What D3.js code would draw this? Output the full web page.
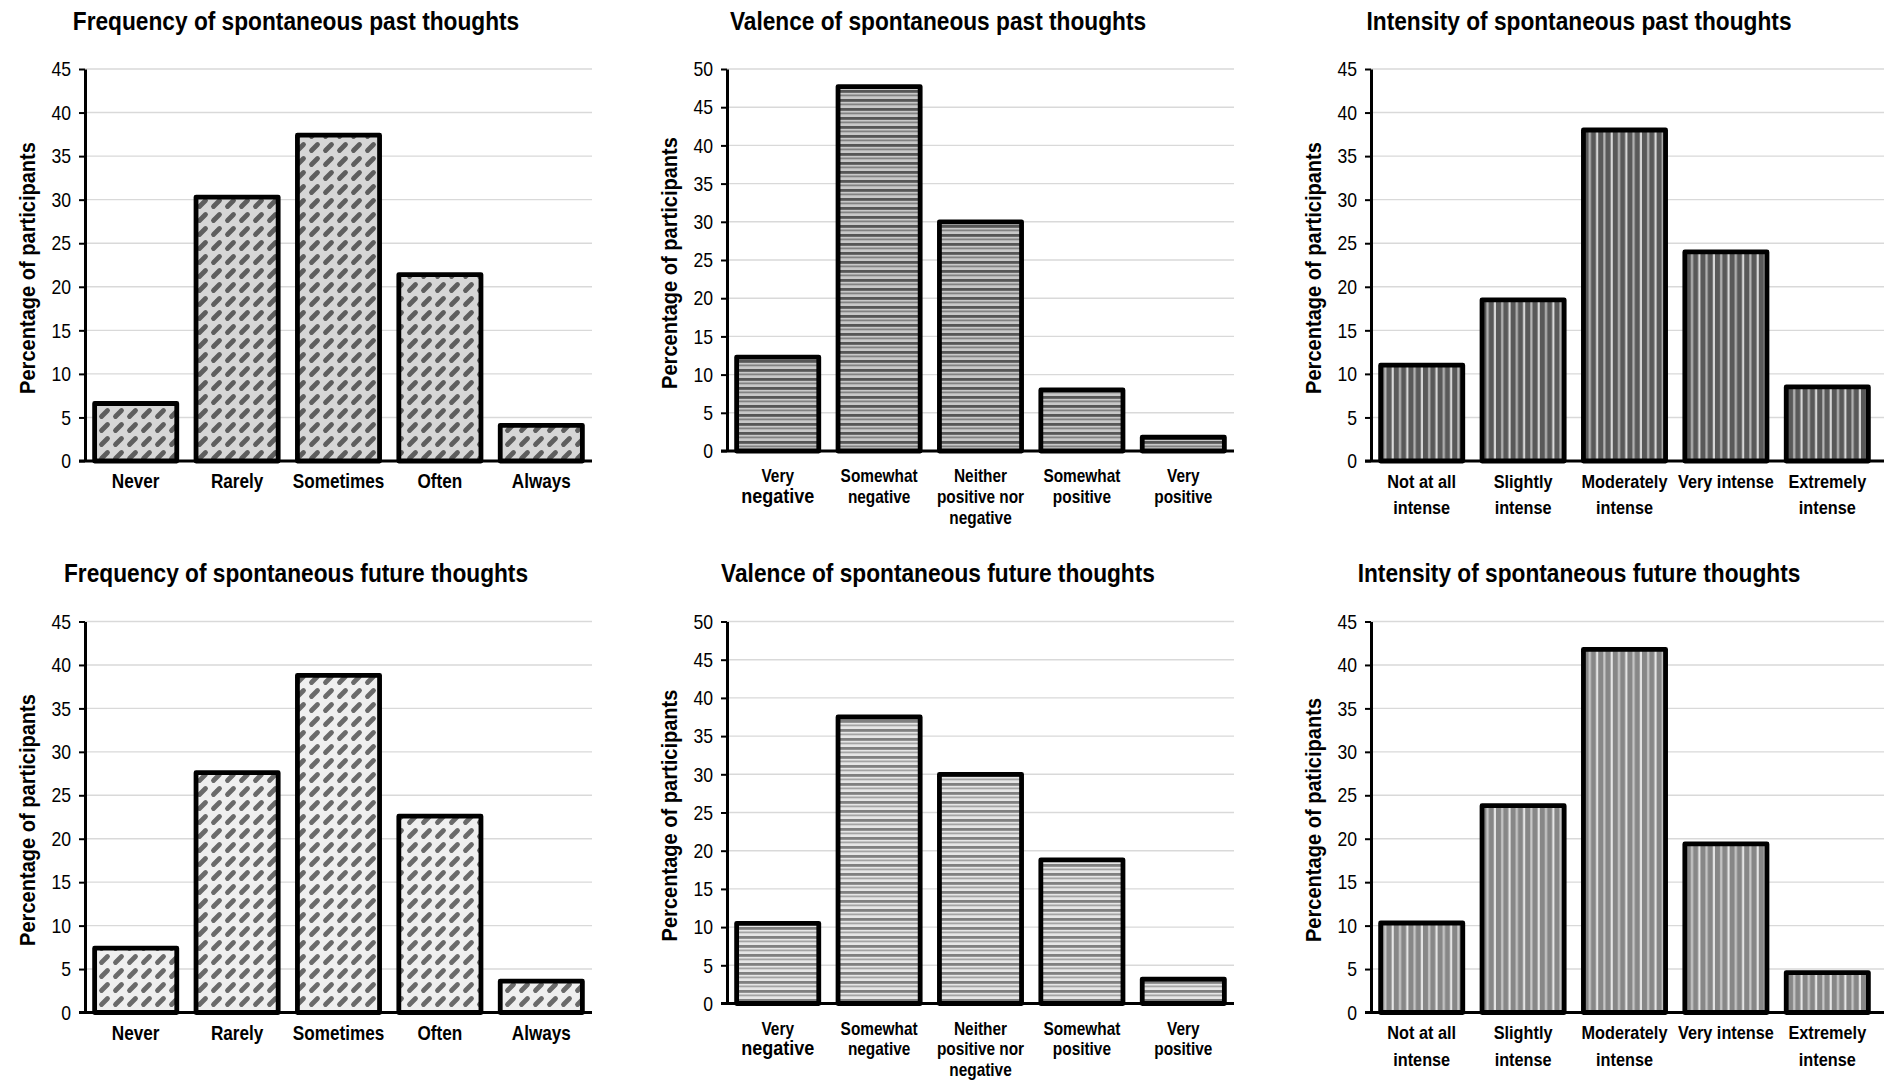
<!DOCTYPE html>
<html>
<head>
<meta charset="utf-8">
<script src="https://cdn.jsdelivr.net/npm/d3@7"></script>
<style>
  body { margin: 0; background: #ffffff; }
  svg { display: block; font-family: "Liberation Sans", Arial, Helvetica, sans-serif; }
</style>
</head>
<body>
<svg id="chart" width="1884" height="1085"></svg>
<script>
// ---- Data -------------------------------------------------------------
const frequencyCategories = [["Never"], ["Rarely"], ["Sometimes"], ["Often"], ["Always"]];
const valenceCategories = [
  ["Very", "negative"],
  ["Somewhat", "negative"],
  ["Neither", "positive nor", "negative"],
  ["Somewhat", "positive"],
  ["Very", "positive"]
];
const intensityCategories = [
  ["Not at all", "intense"],
  ["Slightly", "intense"],
  ["Moderately", "intense"],
  ["Very intense"],
  ["Extremely", "intense"]
];

const frequencyPast   = [6.6, 30.3, 37.4, 21.4, 4.1];
const valencePast     = [12.3, 47.7, 30.0, 8.0, 1.8];
const intensityPast   = [11.0, 18.5, 38.0, 24.0, 8.5];
const frequencyFuture = [7.4, 27.6, 38.8, 22.6, 3.6];
const valenceFuture   = [10.5, 37.5, 30.0, 18.8, 3.2];
const intensityFuture = [10.3, 23.8, 41.8, 19.4, 4.6];

const ticksTo45 = [0, 5, 10, 15, 20, 25, 30, 35, 40, 45];
const ticksTo50 = [0, 5, 10, 15, 20, 25, 30, 35, 40, 45, 50];

const titles = [
  "Frequency of spontaneous past thoughts",
  "Valence of spontaneous past thoughts",
  "Intensity of spontaneous past thoughts",
  "Frequency of spontaneous future thoughts",
  "Valence of spontaneous future thoughts",
  "Intensity of spontaneous future thoughts"
];
const yTitles = [
  "Percentage of participants",
  "Percentage of participants",
  "Percentage of participants",
  "Percentage of participants",
  "Percentage of participants",
  "Percentage of paticipants"
];

// ---- Layout -----------------------------------------------------------
const svg = d3.select("#chart");
const plotWidth = 507;
const columnAxisX = [85, 727, 1371];
const columnTitleX = [296, 938, 1579];
const columnGridExtra = [0, 0, 6];
const rowLayout = [
  { top: 69,    titleY: 30,  zero: 461,    zeroValence: 451 },
  { top: 621.5, titleY: 582, zero: 1012.5, zeroValence: 1003.5 }
];
const NARROW = 0.88; // horizontal condensation applied to all text

const kinds = {
  frequency: { cats: frequencyCategories, ticks: ticksTo45, max: 45, font: 19.5, lineGap: 22, firstLine: 27 },
  valence:   { cats: valenceCategories,   ticks: ticksTo50, max: 50, font: 17.5, lineGap: 21, firstLine: 31 },
  intensity: { cats: intensityCategories, ticks: ticksTo45, max: 45, font: 18.5, lineGap: 27, firstLine: 26.5 }
};

const panels = [
  { kind: "frequency", values: frequencyPast,   row: 0, col: 0, fill: "diagTop" },
  { kind: "valence",   values: valencePast,     row: 0, col: 1, fill: "hstripeTop" },
  { kind: "intensity", values: intensityPast,   row: 0, col: 2, fill: "vstripeTop" },
  { kind: "frequency", values: frequencyFuture, row: 1, col: 0, fill: "diagBottom" },
  { kind: "valence",   values: valenceFuture,   row: 1, col: 1, fill: "hstripeBottom" },
  { kind: "intensity", values: intensityFuture, row: 1, col: 2, fill: "vstripeBottom" }
];

// ---- Fill patterns ----------------------------------------------------
const defs = svg.append("defs");

function diagonalPattern(id, bg, ink) {
  const p = defs.append("pattern").attr("id", id)
    .attr("patternUnits", "userSpaceOnUse").attr("width", 14).attr("height", 14);
  p.append("rect").attr("width", 14).attr("height", 14).attr("fill", bg);
  p.append("line").attr("x1", 3.5).attr("y1", 10.5).attr("x2", 9.5).attr("y2", 4.5)
    .attr("stroke", ink).attr("stroke-width", 4.8).attr("stroke-linecap", "round");
}
function horizontalPattern(id, bg, ink, mid) {
  const p = defs.append("pattern").attr("id", id)
    .attr("patternUnits", "userSpaceOnUse").attr("width", 10).attr("height", 9);
  p.append("rect").attr("width", 10).attr("height", 9).attr("fill", bg);
  p.append("rect").attr("y", 0).attr("width", 10).attr("height", 2.8).attr("fill", ink);
  p.append("rect").attr("y", 4.5).attr("width", 10).attr("height", 1.8).attr("fill", mid);
}
function verticalPattern(id, bg, light, mid) {
  const p = defs.append("pattern").attr("id", id)
    .attr("patternUnits", "userSpaceOnUse").attr("width", 14.6).attr("height", 10);
  p.append("rect").attr("width", 14.6).attr("height", 10).attr("fill", bg);
  p.append("rect").attr("x", 4.6).attr("width", 2.2).attr("height", 10).attr("fill", light);
  p.append("rect").attr("x", 11.9).attr("width", 2.2).attr("height", 10).attr("fill", mid);
}

diagonalPattern("diagTop", "#d6d6d6", "#5e5e5e");
diagonalPattern("diagBottom", "#efefef", "#6a6a6a");
horizontalPattern("hstripeTop", "#c8c8c8", "#565656", "#828282");
horizontalPattern("hstripeBottom", "#e6e6e6", "#808080", "#a4a4a4");
verticalPattern("vstripeTop", "#595959", "#d8d8d8", "#b4b4b4");
verticalPattern("vstripeBottom", "#878787", "#e6e6e6", "#c8c8c8");

// condensed text placed at (x, y), optionally rotated
function narrowText(parent, x, y, rotate) {
  return parent.append("text")
    .attr("transform", `translate(${x},${y})${rotate ? ` rotate(${rotate})` : ""} scale(${NARROW},1)`);
}

// ---- Panels -----------------------------------------------------------
panels.forEach((panel, i) => {
  const cfg = kinds[panel.kind];
  const rowCfg = rowLayout[panel.row];
  const axisX = columnAxisX[panel.col];
  const zeroY = panel.kind === "valence" ? rowCfg.zeroValence : rowCfg.zero;

  const x = d3.scaleBand()
    .domain(d3.range(cfg.cats.length))
    .range([axisX, axisX + plotWidth])
    .paddingInner(0.19)
    .paddingOuter(0.095);
  const y = d3.scaleLinear().domain([0, cfg.max]).range([zeroY, rowCfg.top]);
  const gridEnd = axisX + plotWidth + columnGridExtra[panel.col];

  const g = svg.append("g");

  // chart title
  narrowText(g, columnTitleX[panel.col], rowCfg.titleY)
    .attr("text-anchor", "middle")
    .attr("font-size", 25.8).attr("font-weight", "bold").attr("fill", "#000")
    .text(titles[i]);

  // horizontal gridlines
  g.append("g").selectAll("line")
    .data(cfg.ticks.filter(t => t > 0))
    .join("line")
    .attr("x1", axisX).attr("x2", gridEnd)
    .attr("y1", d => y(d)).attr("y2", d => y(d))
    .attr("stroke", "#d9d9d9").attr("stroke-width", 1.4);

  // bars
  g.append("g").selectAll("rect")
    .data(panel.values)
    .join("rect")
    .attr("x", (d, j) => x(j))
    .attr("width", x.bandwidth())
    .attr("y", d => y(d))
    .attr("height", d => y(0) - y(d))
    .attr("fill", `url(#${panel.fill})`)
    .attr("stroke", "#000").attr("stroke-width", 4.8)
    .attr("stroke-linejoin", "round");

  // y axis line and tick marks
  const yAxis = g.append("g")
    .attr("transform", `translate(${axisX},0)`)
    .call(d3.axisLeft(y).tickValues(cfg.ticks).tickSize(6).tickSizeOuter(0).tickFormat(""));
  yAxis.select(".domain").attr("stroke", "#000").attr("stroke-width", 3);
  yAxis.selectAll(".tick line").attr("stroke", "#000").attr("stroke-width", 2);

  // y tick numbers
  cfg.ticks.forEach(t => {
    narrowText(g, axisX - 14, y(t))
      .attr("text-anchor", "end")
      .attr("dy", "0.36em")
      .attr("font-size", 20).attr("fill", "#000")
      .text(d3.format("d")(t));
  });

  // category axis line
  g.append("line")
    .attr("x1", axisX - 6).attr("x2", gridEnd)
    .attr("y1", y(0)).attr("y2", y(0))
    .attr("stroke", "#000").attr("stroke-width", 3);

  // category labels
  cfg.cats.forEach((lines, j) => {
    const t = narrowText(g, x(j) + x.bandwidth() / 2, y(0) + cfg.firstLine)
      .attr("text-anchor", "middle")
      .attr("font-weight", "bold").attr("fill", "#000");
    lines.forEach((line, k) => {
      const big = panel.kind === "valence" && j === 0 && k === 1;
      t.append("tspan")
        .attr("x", 0)
        .attr("dy", k === 0 ? 0 : cfg.lineGap)
        .attr("font-size", big ? 20.5 : cfg.font)
        .text(line);
    });
  });

  // y axis title
  narrowText(g, axisX - 57, (rowCfg.top + zeroY) / 2 + 3, -90)
    .attr("text-anchor", "middle")
    .attr("dominant-baseline", "central")
    .attr("font-size", 22.8).attr("font-weight", "bold").attr("fill", "#000")
    .text(yTitles[i]);
});
</script>
</body>
</html>
